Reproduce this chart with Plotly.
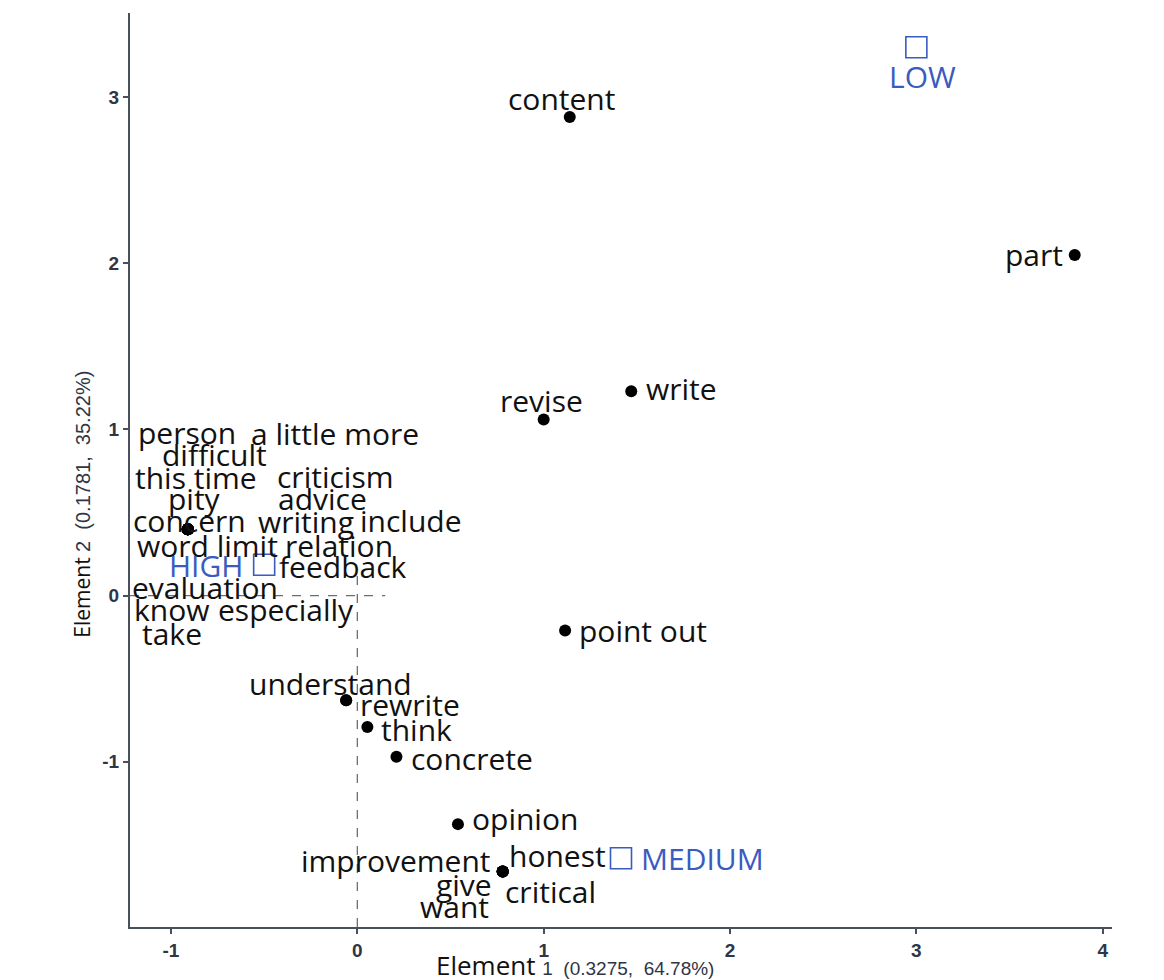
import plotly.graph_objects as go

# ---------------- data ----------------
words = ["content", "part", "write", "revise", "point out",
         "person", "a little more", "difficult", "this time", "criticism",
         "pity", "advice", "concern", "writing", "include", "word limit",
         "relation", "feedback", "evaluation", "know", "especially", "take",
         "understand", "rewrite", "think", "concrete", "opinion",
         "honest", "improvement", "give", "critical", "want"]
word_x = [1.14, 3.85, 1.47, 1.00, 1.115,
          -0.91, -0.91, -0.91, -0.91, -0.91,
          -0.91, -0.91, -0.91, -0.91, -0.91, -0.91,
          -0.91, -0.91, -0.91, -0.91, -0.91, -0.91,
          -0.06, -0.06, 0.054, 0.21, 0.54,
          0.78, 0.78, 0.78, 0.78, 0.78]
word_y = [2.88, 2.05, 1.23, 1.06, -0.21,
          0.40, 0.40, 0.40, 0.40, 0.40,
          0.40, 0.40, 0.40, 0.40, 0.40, 0.40,
          0.40, 0.40, 0.40, 0.40, 0.40, 0.40,
          -0.63, -0.63, -0.79, -0.97, -1.375,
          -1.66, -1.66, -1.66, -1.66, -1.66]

groups = ["LOW", "HIGH", "MEDIUM"]
group_x = [3.00, -0.50, 1.415]
group_y = [3.30, 0.186, -1.58]

x_tickvals = [-1, 0, 1, 2, 3, 4]
x_ticktext = ["-1", "0", "1", "2", "3", "4"]
y_tickvals = [-1, 0, 1, 2, 3]
y_ticktext = ["-1", "0", "1", "2", "3"]

x_title_main, x_title_sub = "Element", "1&nbsp;&nbsp;(0.3275,&nbsp;&nbsp;64.78%)"
y_title_main, y_title_sub = "Element", "2&nbsp;&nbsp;(0.1781,&nbsp;&nbsp;35.22%)"

# ---------------- label placement (pixel offsets, layout only) ----------------
# word: (xanchor, xshift, yshift)
word_offsets = {
    "content": ("center", -8, 19),
    "part": ("right", -10, 0),
    "write": ("left", 13, 3),
    "revise": ("center", -2, 19),
    "point out": ("left", 12, 0),
    "person": ("center", -1, 97),
    "a little more": ("center", 147, 96),
    "difficult": ("center", 27, 75),
    "this time": ("center", 8, 52),
    "criticism": ("center", 147, 53),
    "pity": ("center", 7, 31),
    "advice": ("center", 135, 31),
    "concern": ("center", 2, 9),
    "writing": ("center", 118, 8),
    "include": ("center", 223, 9),
    "word limit": ("center", 20, -16),
    "relation": ("center", 151, -16),
    "feedback": ("center", 155, -37),
    "evaluation": ("center", 17, -58),
    "know": ("center", -16, -80),
    "especially": ("center", 98, -80),
    "take": ("center", -16, -104),
    "understand": ("center", -16, 17),
    "rewrite": ("left", 12, -4),
    "think": ("left", 12, -3),
    "concrete": ("left", 13, -2),
    "opinion": ("left", 12, 6),
    "honest": ("left", 4, 16),
    "improvement": ("right", -10, 11),
    "give": ("right", -9, -13),
    "critical": ("left", 0, -20),
    "want": ("right", -12, -35),
}
group_offsets = {
    "LOW": ("center", 6, -29),
    "HIGH": ("right", -19, -1),
    "MEDIUM": ("left", 18, 0),
}

LABEL_FONT = "'Open Sans', 'Noto Sans', sans-serif"
LABEL_SIZE = 30
BLUE = "#3a5bbf"
AXIS_COL = "#4a4f5c"
TICK_COL = "#2f3545"

x_range = [-1.22, 4.05]
y_range = [-1.994, 3.506]

fig = go.Figure()

# dashed reference lines
fig.add_shape(type="line", x0=x_range[0], x1=0.15, y0=0, y1=0,
              line=dict(color="#6a6e76", width=1.3, dash="dash"), layer="below")
fig.add_shape(type="line", x0=0, x1=0, y0=y_range[0], y1=0.15,
              line=dict(color="#6a6e76", width=1.3, dash="dash"), layer="below")

fig.add_trace(go.Scatter(x=word_x, y=word_y, mode="markers",
                         marker=dict(color="black", size=12),
                         hoverinfo="text", text=words, showlegend=False))
fig.add_trace(go.Scatter(x=group_x, y=group_y, mode="markers",
                         marker=dict(symbol="square-open", color=BLUE, size=21,
                                     line=dict(width=1.6, color=BLUE)),
                         hoverinfo="text", text=groups, showlegend=False))

for w, x, y in zip(words, word_x, word_y):
    anc, dx, dy = word_offsets[w]
    fig.add_annotation(x=x, y=y, text=w, showarrow=False, xanchor=anc,
                       yanchor="middle", xshift=dx, yshift=dy,
                       font=dict(family=LABEL_FONT, size=LABEL_SIZE, color="#111111"))
for g, x, y in zip(groups, group_x, group_y):
    anc, dx, dy = group_offsets[g]
    fig.add_annotation(x=x, y=y, text=g, showarrow=False, xanchor=anc,
                       yanchor="middle", xshift=dx, yshift=dy,
                       font=dict(family=LABEL_FONT, size=LABEL_SIZE, color=BLUE))

# axis titles
X_SUB = "font-size:19px;font-family:Liberation Sans,Arial;color:#2f3545"
Y_SUB = "font-size:20px;font-family:Liberation Sans,Arial;color:#2f3545"
fig.add_annotation(xref="paper", yref="paper", x=0.31, y=0, yshift=-38,
                   xanchor="left", yanchor="middle", showarrow=False,
                   text=f"{x_title_main} <span style=\"{X_SUB}\">{x_title_sub}</span>",
                   font=dict(family=LABEL_FONT, size=26, color="#111111"))
fig.add_annotation(xref="paper", yref="paper", x=0, y=0.462, xshift=-48,
                   xanchor="center", yanchor="middle", showarrow=False, textangle=-90,
                   text=f"{y_title_main} <span style=\"{Y_SUB}\">{y_title_sub}</span>",
                   font=dict(family=LABEL_FONT, size=21, color="#111111"))

axis_common = dict(showgrid=False, zeroline=False, showline=True, linecolor=AXIS_COL,
                   linewidth=2, ticks="outside", ticklen=5, tickwidth=2,
                   tickcolor=AXIS_COL, mirror=False,
                   tickfont=dict(family="Liberation Sans, Arial", size=19,
                                 color=TICK_COL, weight="bold"))
fig.update_xaxes(range=x_range, tickvals=x_tickvals, ticktext=x_ticktext, **axis_common)
fig.update_yaxes(range=y_range, tickvals=y_tickvals, ticktext=y_ticktext, **axis_common)

fig.update_layout(width=1164, height=980, plot_bgcolor="white", paper_bgcolor="white",
                  margin=dict(l=122, r=60, t=5, b=61))

fig.write_html("out.html")
